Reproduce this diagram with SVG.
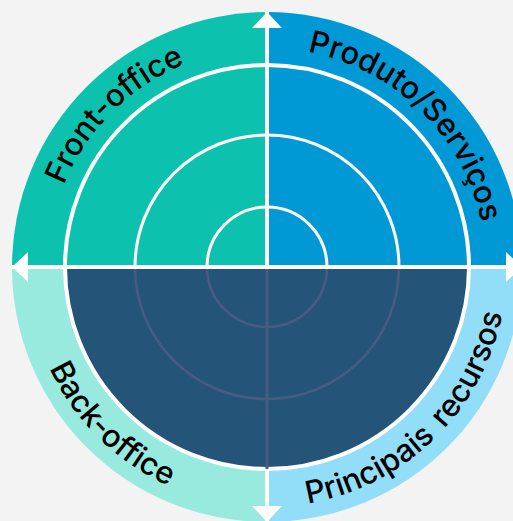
<svg xmlns="http://www.w3.org/2000/svg" width="513" height="521" viewBox="0 0 513 521">
<style>
.lbl{font-family:Inter,"Liberation Sans",sans-serif;font-weight:500;font-size:31px;fill:#000}
.ring{fill:none;stroke:#fff;stroke-width:3}
.faint{fill:none;stroke:#4A5B82;stroke-width:2.5}
.axis{stroke:#fff;stroke-width:4;fill:none}
</style>
<defs>
<marker id="arr" markerUnits="userSpaceOnUse" markerWidth="16" markerHeight="30" viewBox="0 0 15 28" refX="15" refY="14" orient="auto-start-reverse">
<path d="M0,0 L15,14 L0,28 Z" fill="#fff"/>
</marker>
<path id="topArc" d="M48,267 A219,219 0 0 1 486,267"/>
<path id="botArc" d="M27,267 A240,240 0 0 0 507,267"/>
</defs>
<rect width="513" height="521" fill="#F3F3F3"/>
<g id="front-office">
<path d="M267,267 L12,267 A255,255 0 0 1 267,12 Z" fill="#0CC2AF"/>
</g>
<g id="produto-servicos">
<path d="M267,267 L267,12 A255,255 0 0 1 522,267 Z" fill="#0099D6"/>
</g>
<g id="principais-recursos">
<path d="M267,267 L522,267 A255,255 0 0 1 267,522 Z" fill="#92DDF7"/>
</g>
<g id="back-office">
<path d="M267,267 L267,522 A255,255 0 0 1 12,267 Z" fill="#97EADD"/>
</g>
<g id="core">
<path d="M65,267 A202,202 0 0 0 469,267 Z" fill="#245579"/>
<path class="faint" d="M135,267 A132,132 0 0 0 399,267"/>
<path class="faint" d="M207,267 A60,60 0 0 0 327,267"/>
<path class="ring" d="M135,267 A132,132 0 0 1 399,267"/>
<path class="ring" d="M207,267 A60,60 0 0 1 327,267"/>
<circle cx="267" cy="267" r="202" fill="none" stroke="#fff" stroke-width="4"/>
</g>
<g id="connectors">
<line x1="267" y1="269" x2="267" y2="469" stroke="#4A5B82" stroke-width="3"/>
<line class="axis" x1="12" y1="267" x2="522" y2="267" marker-start="url(#arr)" marker-end="url(#arr)"/>
<line class="axis" x1="267" y1="267" x2="267" y2="12" marker-end="url(#arr)"/>
<line class="axis" x1="267" y1="469" x2="267" y2="522" marker-end="url(#arr)"/>
</g>
<g id="labels">
<text class="lbl"><textPath href="#topArc" startOffset="25%" text-anchor="middle">Front-office</textPath></text>
<text class="lbl"><textPath href="#topArc" startOffset="74.7%" text-anchor="middle">Produto/Serviços</textPath></text>
<text class="lbl"><textPath href="#botArc" startOffset="25.2%" text-anchor="middle">Back-office</textPath></text>
<text class="lbl" word-spacing="4"><textPath href="#botArc" startOffset="74.6%" text-anchor="middle">Principais recursos</textPath></text>
</g>
</svg>
